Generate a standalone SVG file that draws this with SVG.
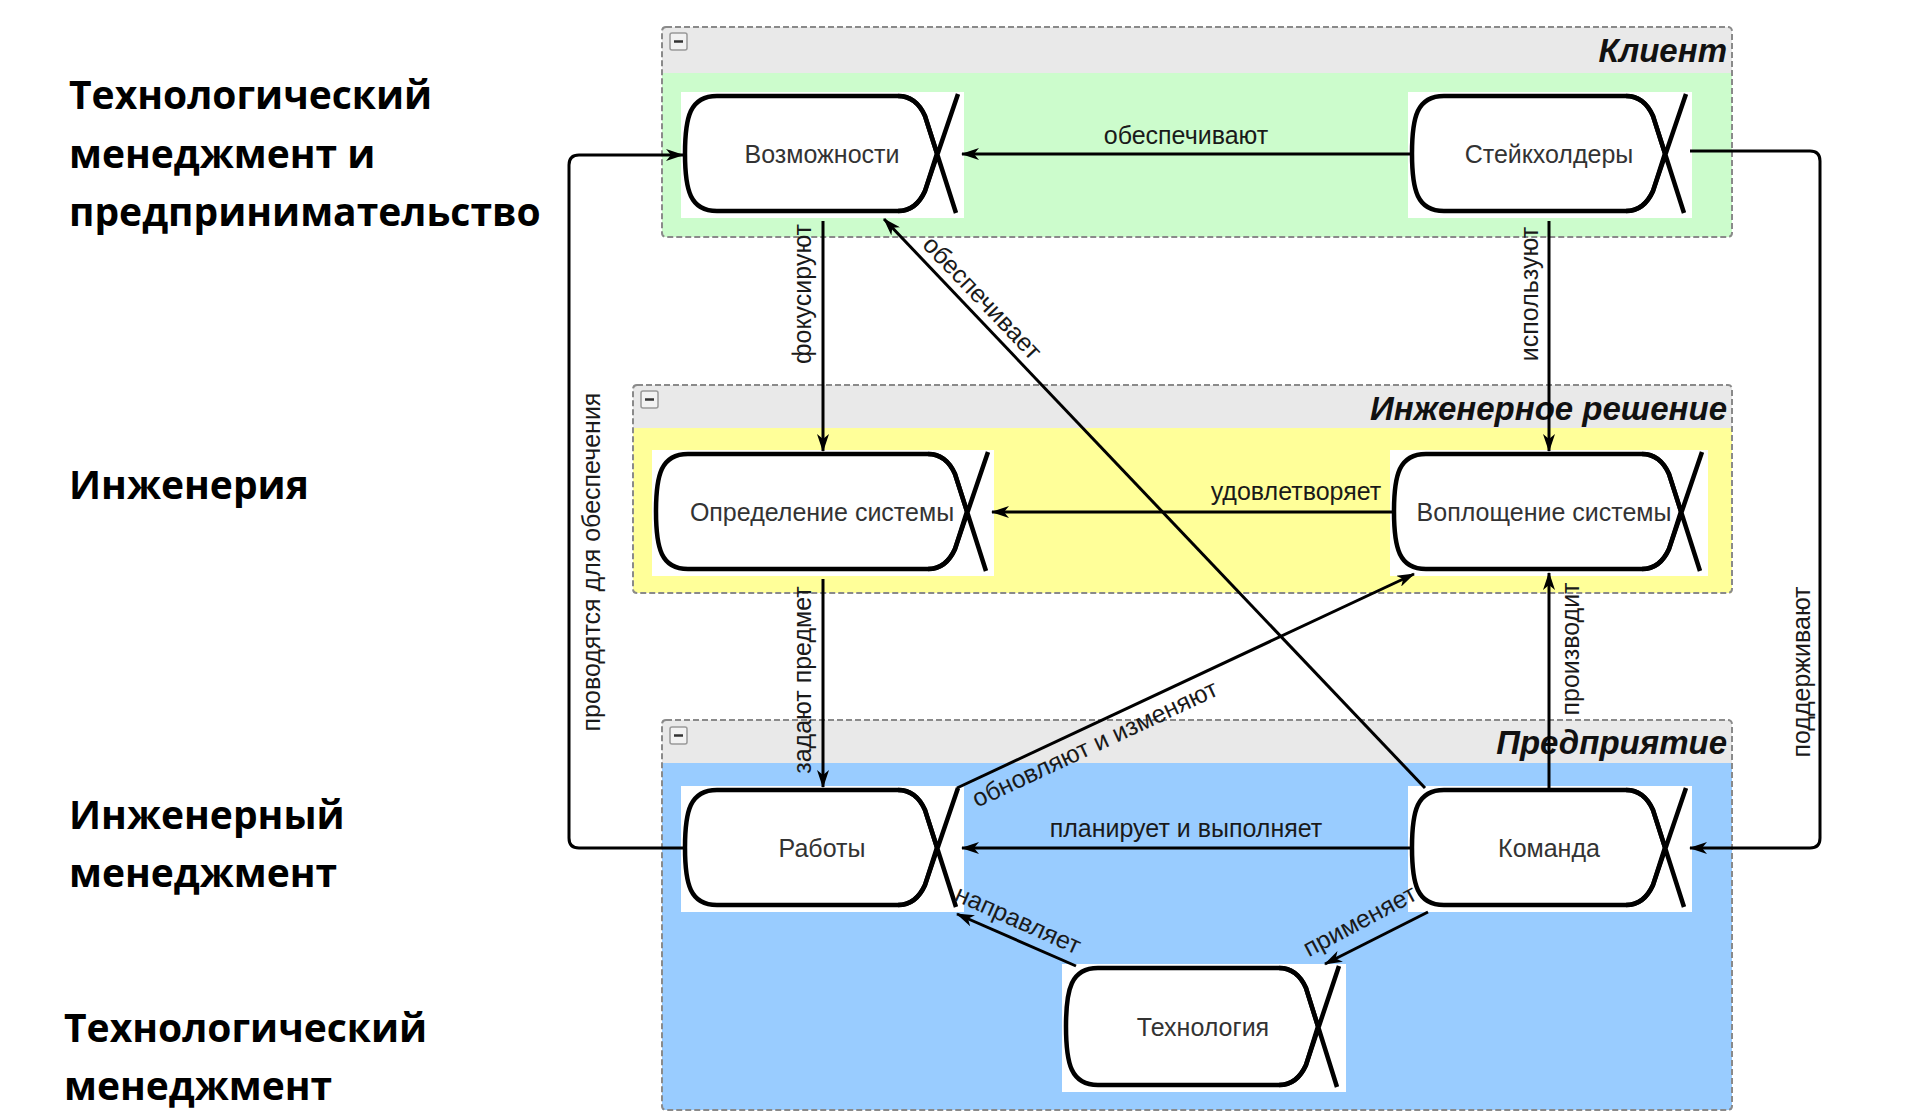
<svg xmlns="http://www.w3.org/2000/svg" width="1906" height="1120" viewBox="0 0 1906 1120">
<style>
.bg{fill:#ffffff}
.cont{stroke:#8a8a8a;stroke-width:2;stroke-dasharray:6 3;fill:none}
.hdr{fill:#e9e9e9}
.ctitle{font-family:"Liberation Sans",Arial,sans-serif;font-weight:bold;font-style:italic;font-size:33px;fill:#111;text-anchor:end}
.minus{fill:#f2f2f2;stroke:#999;stroke-width:1.5}
.shape{fill:#ffffff;stroke:#000;stroke-width:4.5;stroke-linejoin:round}
.xline{fill:none;stroke:#000;stroke-width:4.5}
.ntext{font-family:"Liberation Sans",Arial,sans-serif;font-size:25px;fill:#333;text-anchor:middle}
.conn{fill:none;stroke:#000;stroke-width:3;marker-end:url(#arr)}
.clabel{font-family:"Liberation Sans",Arial,sans-serif;font-size:25px;fill:#1a1a1a;text-anchor:middle}
.side{font-family:"Open Sans","Noto Sans",sans-serif;font-weight:bold;font-size:39px;fill:#000}
</style>
<defs>
<marker id="arr" viewBox="0 0 18 12" refX="17" refY="6" markerWidth="18" markerHeight="12" markerUnits="userSpaceOnUse" orient="auto">
<path d="M0,0 L18,6 L0,12 L5,6 z" fill="#000"/>
</marker>
</defs>
<rect x="0" y="0" width="1906" height="1120" fill="#ffffff"/>

<!-- Side labels -->
<g id="side-labels">
<text class="side" x="69" y="109">Технологический</text>
<text class="side" x="69" y="168">менеджмент и</text>
<text class="side" x="69" y="226">предпринимательство</text>
<text class="side" x="69" y="499">Инженерия</text>
<text class="side" x="69" y="829">Инженерный</text>
<text class="side" x="69" y="887">менеджмент</text>
<text class="side" x="64" y="1042">Технологический</text>
<text class="side" x="64" y="1100">менеджмент</text>
</g>

<!-- Containers -->
<g id="container-client">
<rect x="662" y="27" width="1070" height="210" fill="#ccfccc"/>
<rect class="hdr" x="662" y="27" width="1070" height="46"/>
<rect class="cont" x="662" y="27" width="1070" height="210" rx="4"/>
<rect class="minus" x="670" y="33" width="17" height="17" rx="2"/>
<line x1="674" y1="41.5" x2="683" y2="41.5" stroke="#333" stroke-width="2.5"/>
<text class="ctitle" x="1727" y="62">Клиент</text>
</g>
<g id="container-solution">
<rect x="633" y="385" width="1099" height="208" fill="#ffff99"/>
<rect class="hdr" x="633" y="385" width="1099" height="43"/>
<rect class="cont" x="633" y="385" width="1099" height="208" rx="4"/>
<rect class="minus" x="641" y="391" width="17" height="17" rx="2"/>
<line x1="645" y1="399.5" x2="654" y2="399.5" stroke="#333" stroke-width="2.5"/>
<text class="ctitle" x="1727" y="420">Инженерное решение</text>
</g>
<g id="container-enterprise">
<rect x="662" y="720" width="1070" height="390" fill="#99ccff"/>
<rect class="hdr" x="662" y="720" width="1070" height="43"/>
<rect class="cont" x="662" y="720" width="1070" height="390" rx="4"/>
<rect class="minus" x="670" y="727" width="17" height="17" rx="2"/>
<line x1="674" y1="735.5" x2="683" y2="735.5" stroke="#333" stroke-width="2.5"/>
<text class="ctitle" x="1727" y="754">Предприятие</text>
</g>

<!-- Nodes -->
<g id="node-vozmozhnosti">
<rect class="bg" x="681" y="92" width="283" height="126"/>
<path class="shape" d="M717,96 L898,96 Q916,96 925,116 L937,153.5 L925,191 Q916,211 898,211 L717,211 C690,211 685,190 685,153.5 C685,117 690,96 717,96 Z"/>
<path class="xline" d="M898,96 Q916,96 925,116 L956,213 M898,211 Q916,211 925,191 L958,94"/>
<text class="ntext" x="822" y="163">Возможности</text>
</g>
<g id="node-stakeholders">
<rect class="bg" x="1408" y="92" width="284" height="126"/>
<path class="shape" d="M1444,96 L1626,96 Q1644,96 1653,116 L1665,153.5 L1653,191 Q1644,211 1626,211 L1444,211 C1417,211 1412,190 1412,153.5 C1412,117 1417,96 1444,96 Z"/>
<path class="xline" d="M1626,96 Q1644,96 1653,116 L1684,213 M1626,211 Q1644,211 1653,191 L1686,94"/>
<text class="ntext" x="1549" y="163">Стейкхолдеры</text>
</g>
<g id="node-definition">
<rect class="bg" x="652" y="450" width="342" height="126"/>
<path class="shape" d="M688,454 L928,454 Q946,454 955,474 L967,511.5 L955,549 Q946,569 928,569 L688,569 C661,569 656,548 656,511.5 C656,475 661,454 688,454 Z"/>
<path class="xline" d="M928,454 Q946,454 955,474 L986,571 M928,569 Q946,569 955,549 L988,452"/>
<text class="ntext" x="822" y="521">Определение системы</text>
</g>
<g id="node-realization">
<rect class="bg" x="1390" y="450" width="318" height="126"/>
<path class="shape" d="M1426,454 L1642,454 Q1660,454 1669,474 L1681,511.5 L1669,549 Q1660,569 1642,569 L1426,569 C1399,569 1394,548 1394,511.5 C1394,475 1399,454 1426,454 Z"/>
<path class="xline" d="M1642,454 Q1660,454 1669,474 L1700,571 M1642,569 Q1660,569 1669,549 L1702,452"/>
<text class="ntext" x="1544" y="521">Воплощение системы</text>
</g>
<g id="node-works">
<rect class="bg" x="681" y="786" width="283" height="126"/>
<path class="shape" d="M717,790 L898,790 Q916,790 925,810 L937,847.5 L925,885 Q916,905 898,905 L717,905 C690,905 685,884 685,847.5 C685,811 690,790 717,790 Z"/>
<path class="xline" d="M898,790 Q916,790 925,810 L956,907 M898,905 Q916,905 925,885 L958,788"/>
<text class="ntext" x="822" y="857">Работы</text>
</g>
<g id="node-team">
<rect class="bg" x="1408" y="786" width="284" height="126"/>
<path class="shape" d="M1444,790 L1626,790 Q1644,790 1653,810 L1665,847.5 L1653,885 Q1644,905 1626,905 L1444,905 C1417,905 1412,884 1412,847.5 C1412,811 1417,790 1444,790 Z"/>
<path class="xline" d="M1626,790 Q1644,790 1653,810 L1684,907 M1626,905 Q1644,905 1653,885 L1686,788"/>
<text class="ntext" x="1549" y="857">Команда</text>
</g>
<g id="node-technology">
<rect class="bg" x="1062" y="964" width="284" height="128"/>
<path class="shape" d="M1098,968 L1279,968 Q1297,968 1306,988 L1318,1026.5 L1306,1065 Q1297,1085 1279,1085 L1098,1085 C1071,1085 1066,1064 1066,1026.5 C1066,989 1071,968 1098,968 Z"/>
<path class="xline" d="M1279,968 Q1297,968 1306,988 L1337,1087 M1279,1085 Q1297,1085 1306,1065 L1339,966"/>
<text class="ntext" x="1203" y="1036">Технология</text>
</g>

<!-- Connectors -->
<g id="connectors">
<path class="conn" d="M1412,154 L962,154"/>
<path class="conn" d="M823,221 L823,451"/>
<path class="conn" d="M1549,221 L1549,451"/>
<path class="conn" d="M1394,512 L992,512"/>
<path class="conn" d="M823,579 L823,787"/>
<path class="conn" d="M1549,790 L1549,573"/>
<path class="conn" d="M1425,788 L884,219"/>
<path class="conn" d="M957,788 L1414,574"/>
<path class="conn" d="M1412,848 L962,848"/>
<path class="conn" d="M685,848 L579,848 Q569,848 569,838 L569,165 Q569,155 579,155 L683,155"/>
<path class="conn" d="M1690,151 L1810,151 Q1820,151 1820,161 L1820,838 Q1820,848 1810,848 L1690,848"/>
<path class="conn" d="M1076,966 L957,914"/>
<path class="conn" d="M1428,912 L1325,964"/>
</g>

<!-- Connector labels -->
<g id="connector-labels">
<text class="clabel" x="1186" y="144">обеспечивают</text>
<text class="clabel" transform="translate(803,294) rotate(-90)" x="0" y="8">фокусируют</text>
<text class="clabel" transform="translate(1530,294) rotate(-90)" x="0" y="8">используют</text>
<text class="clabel" x="1296" y="500">удовлетворяет</text>
<text class="clabel" transform="translate(803,680) rotate(-90)" x="0" y="8">задают  предмет</text>
<text class="clabel" transform="translate(1571,649) rotate(-90)" x="0" y="8">производит</text>
<text class="clabel" transform="translate(982,298) rotate(46.4)" x="0" y="8">обеспечивает</text>
<text class="clabel" transform="translate(1095,744) rotate(-25)" x="0" y="8">обновляют и изменяют</text>
<text class="clabel" x="1186" y="837">планирует и выполняет</text>
<text class="clabel" transform="translate(592,562) rotate(-90)" x="0" y="8">проводятся для обеспечения</text>
<text class="clabel" transform="translate(1802,672) rotate(-90)" x="0" y="8">поддерживают</text>
<text class="clabel" transform="translate(1018,920) rotate(24)" x="0" y="8">направляет</text>
<text class="clabel" transform="translate(1360,921) rotate(-28)" x="0" y="8">применяет</text>
</g>
</svg>
